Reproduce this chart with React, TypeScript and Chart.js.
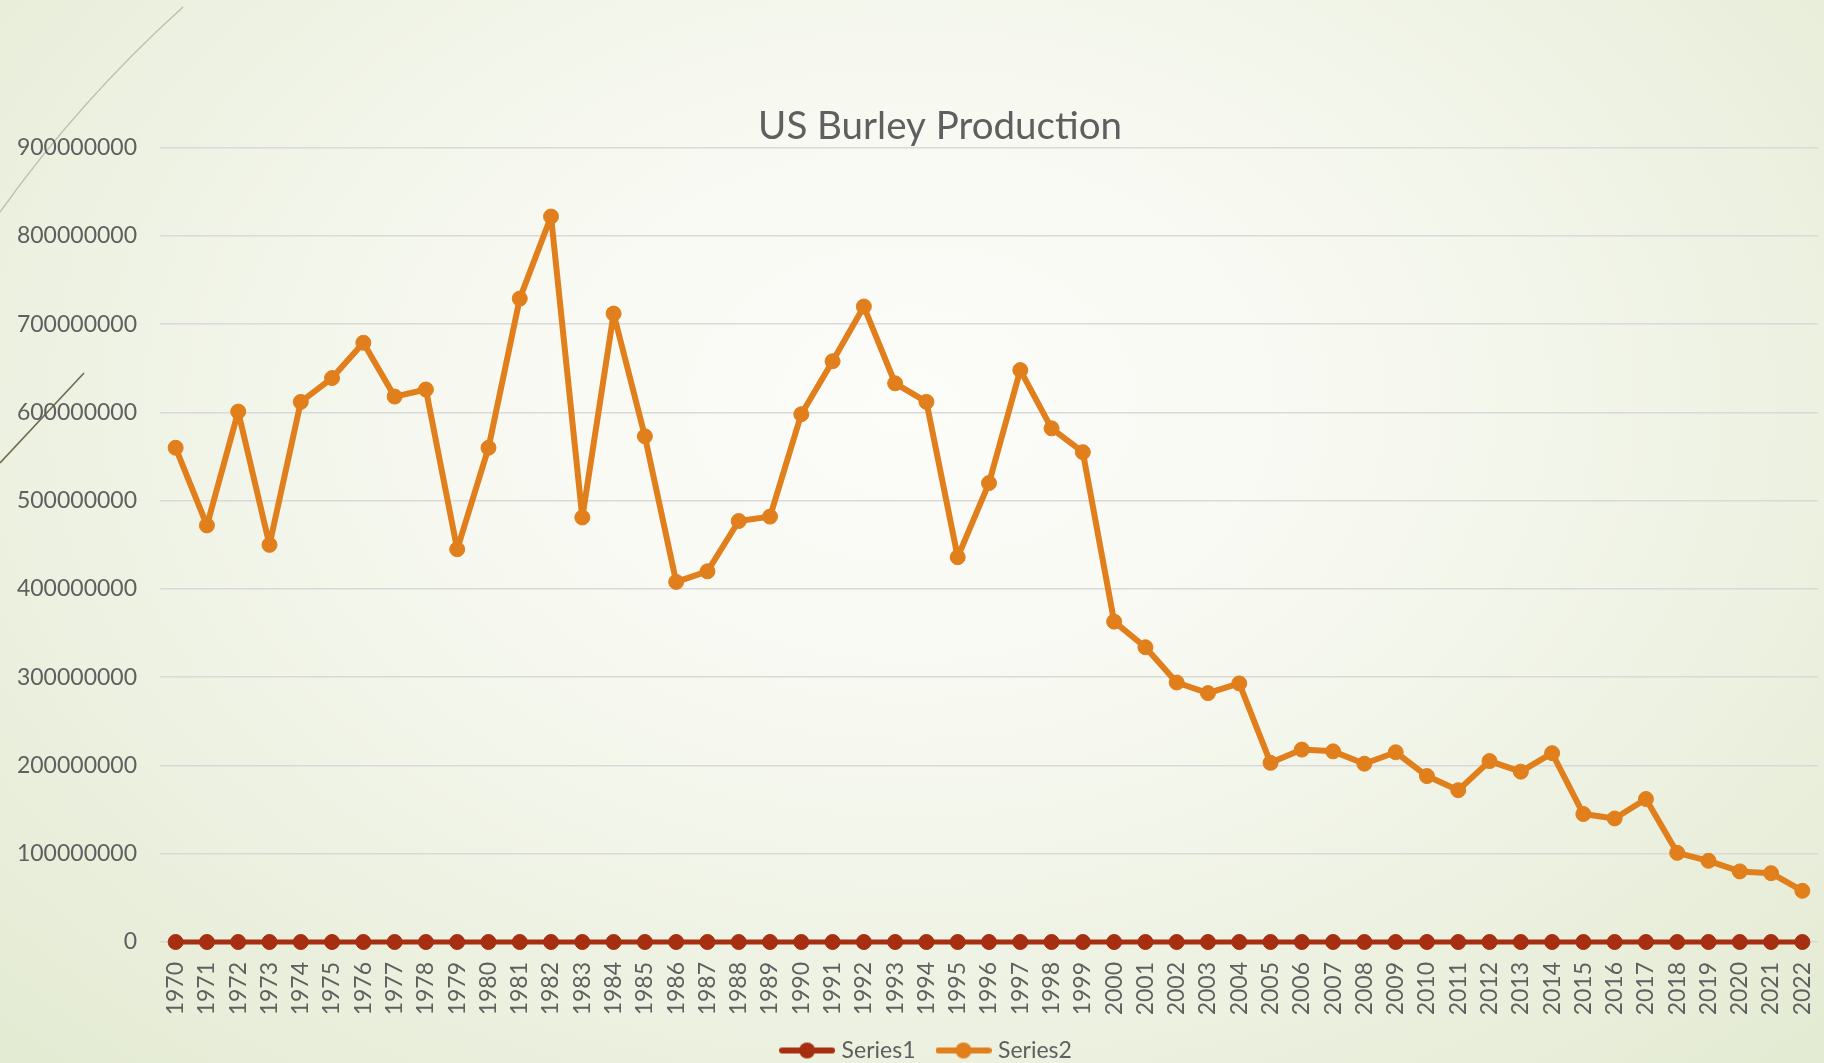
import React, { useEffect, useRef } from 'react';
import { Chart, registerables } from 'chart.js';

Chart.register(...registerables);

const years = [
  '1970', '1971', '1972', '1973', '1974', '1975', '1976', '1977', '1978', '1979',
  '1980', '1981', '1982', '1983', '1984', '1985', '1986', '1987', '1988', '1989',
  '1990', '1991', '1992', '1993', '1994', '1995', '1996', '1997', '1998', '1999',
  '2000', '2001', '2002', '2003', '2004', '2005', '2006', '2007', '2008', '2009',
  '2010', '2011', '2012', '2013', '2014', '2015', '2016', '2017', '2018', '2019',
  '2020', '2021', '2022',
];

const series1 = [
  0, 0, 0, 0, 0, 0, 0, 0, 0, 0,
  0, 0, 0, 0, 0, 0, 0, 0, 0, 0,
  0, 0, 0, 0, 0, 0, 0, 0, 0, 0,
  0, 0, 0, 0, 0, 0, 0, 0, 0, 0,
  0, 0, 0, 0, 0, 0, 0, 0, 0, 0,
  0, 0, 0,
];

const series2 = [
  560000000, 472000000, 601000000, 450000000, 612000000, 639000000, 679000000, 618000000, 626000000, 445000000,
  560000000, 729000000, 822000000, 481000000, 712000000, 573000000, 408000000, 420000000, 477000000, 482000000,
  598000000, 658000000, 720000000, 633000000, 612000000, 436000000, 520000000, 648000000, 582000000, 555000000,
  363000000, 334000000, 294000000, 282000000, 293000000, 203000000, 218000000, 216000000, 202000000, 215000000,
  188000000, 172000000, 205000000, 193000000, 214000000, 145000000, 140000000, 162000000, 101000000, 92000000,
  80000000, 78000000, 58000000,
];

const seriesNames = ['Series1', 'Series2'];
const seriesColors = ['#a52f10', '#e07f1c'];
const chartTitle = 'US Burley Production';
const yMin = 0;
const yMax = 900000000;
const yStep = 100000000;

const textColor = '#5f5f5f';
const fontFamily = 'Lato, "Open Sans", sans-serif';

function makeLegendIcon(color: string): HTMLCanvasElement {
  const c = document.createElement('canvas');
  c.width = 56;
  c.height = 18;
  const ctx = c.getContext('2d')!;
  ctx.strokeStyle = color;
  ctx.lineWidth = 6;
  ctx.lineCap = 'round';
  ctx.beginPath();
  ctx.moveTo(3, 9);
  ctx.lineTo(53, 9);
  ctx.stroke();
  ctx.fillStyle = color;
  ctx.beginPath();
  ctx.arc(28, 9, 8, 0, Math.PI * 2);
  ctx.fill();
  return c;
}

const decoPlugin = {
  id: 'deco',
  afterLayout(chart: any) {
    const lg = chart.legend;
    if (lg) {
      lg.left -= 12;
      lg.right -= 12;
    }
  },
  beforeDraw(chart: any) {
    const ctx = chart.ctx as CanvasRenderingContext2D;
    ctx.save();
    ctx.strokeStyle = 'rgba(170,176,150,0.75)';
    ctx.lineWidth = 1.3;
    ctx.beginPath();
    ctx.moveTo(0, 212);
    ctx.quadraticCurveTo(80, 100, 183, 7);
    ctx.stroke();
    ctx.strokeStyle = '#6e6a4e';
    ctx.lineWidth = 1.6;
    ctx.beginPath();
    ctx.moveTo(0, 463);
    ctx.lineTo(84, 373);
    ctx.stroke();
    ctx.restore();
  },
};

export default function App() {
  const ref = useRef<HTMLCanvasElement>(null);

  useEffect(() => {
    if (!ref.current) return;
    const icons = seriesColors.map((c) => makeLegendIcon(c));
    const chart = new Chart(ref.current, {
      type: 'line',
      data: {
        labels: years,
        datasets: [
          {
            label: seriesNames[0],
            data: series1,
            borderColor: seriesColors[0],
            backgroundColor: seriesColors[0],
            pointBackgroundColor: seriesColors[0],
            pointBorderColor: seriesColors[0],
            borderWidth: 5,
            pointRadius: 7.5,
            pointBorderWidth: 1,
            borderJoinStyle: 'round',
            borderCapStyle: 'round',
            tension: 0,
            clip: false,
          },
          {
            label: seriesNames[1],
            data: series2,
            borderColor: seriesColors[1],
            backgroundColor: seriesColors[1],
            pointBackgroundColor: seriesColors[1],
            pointBorderColor: seriesColors[1],
            borderWidth: 6,
            pointRadius: 7.5,
            pointBorderWidth: 1,
            borderJoinStyle: 'round',
            borderCapStyle: 'round',
            tension: 0,
            clip: false,
          },
        ],
      },
      options: {
        animation: false,
        responsive: true,
        maintainAspectRatio: false,
        layout: { padding: 0 },
        font: { family: fontFamily },
        plugins: {
          title: {
            display: true,
            text: chartTitle,
            color: textColor,
            font: { size: 38.5, weight: 'normal', family: fontFamily },
            padding: { top: 103.5, bottom: -2 },
          },
          legend: {
            position: 'bottom',
            labels: {
              usePointStyle: true,
              pointStyleWidth: 46,
              padding: 25,
              color: textColor,
              font: { size: 23, family: fontFamily },
              generateLabels: (ch: any) => {
                const items = (Chart.defaults.plugins.legend.labels as any).generateLabels(ch);
                return items.map((it: any, i: number) => ({ ...it, pointStyle: icons[i] }));
              },
            },
          },
          tooltip: { enabled: false },
        },
        scales: {
          x: {
            offset: true,
            grid: { display: false, drawTicks: false },
            border: { display: false },
            ticks: {
              autoSkip: false,
              maxRotation: 90,
              minRotation: 90,
              padding: 20,
              color: textColor,
              font: { size: 23, family: fontFamily },
            },
            afterFit: (s: any) => {
              s.height = 72;
            },
          },
          y: {
            min: yMin,
            max: yMax,
            ticks: {
              stepSize: yStep,
              padding: 23,
              color: textColor,
              font: { size: 23, family: fontFamily },
              callback: (v: any) => String(v),
            },
            grid: { color: '#d9d9d9', lineWidth: 1.5, drawTicks: false },
            border: { display: false },
            afterFit: (s: any) => {
              s.width = 160;
            },
          },
          yRight: {
            type: 'linear',
            position: 'right',
            display: true,
            grid: { display: false, drawTicks: false },
            ticks: { display: false },
            border: { display: false },
            afterFit: (s: any) => {
              s.width = 62;
            },
          },
        },
      } as any,
      plugins: [decoPlugin],
    });
    return () => chart.destroy();
  }, []);

  return (
    <div
      style={{
        position: 'fixed',
        left: 0,
        top: 0,
        width: 1824,
        height: 1063,
        overflow: 'hidden',
        background:
          'radial-gradient(ellipse 70% 85% at 50% 38%, #fcfcf9 0%, #f7f9f1 35%, #eef2e3 65%, #e4ebd3 100%)',
      }}
    >
      <div style={{ position: 'absolute', left: 0, top: 0, width: 1880, height: 1072 }}>
        <canvas ref={ref} />
      </div>
    </div>
  );
}
